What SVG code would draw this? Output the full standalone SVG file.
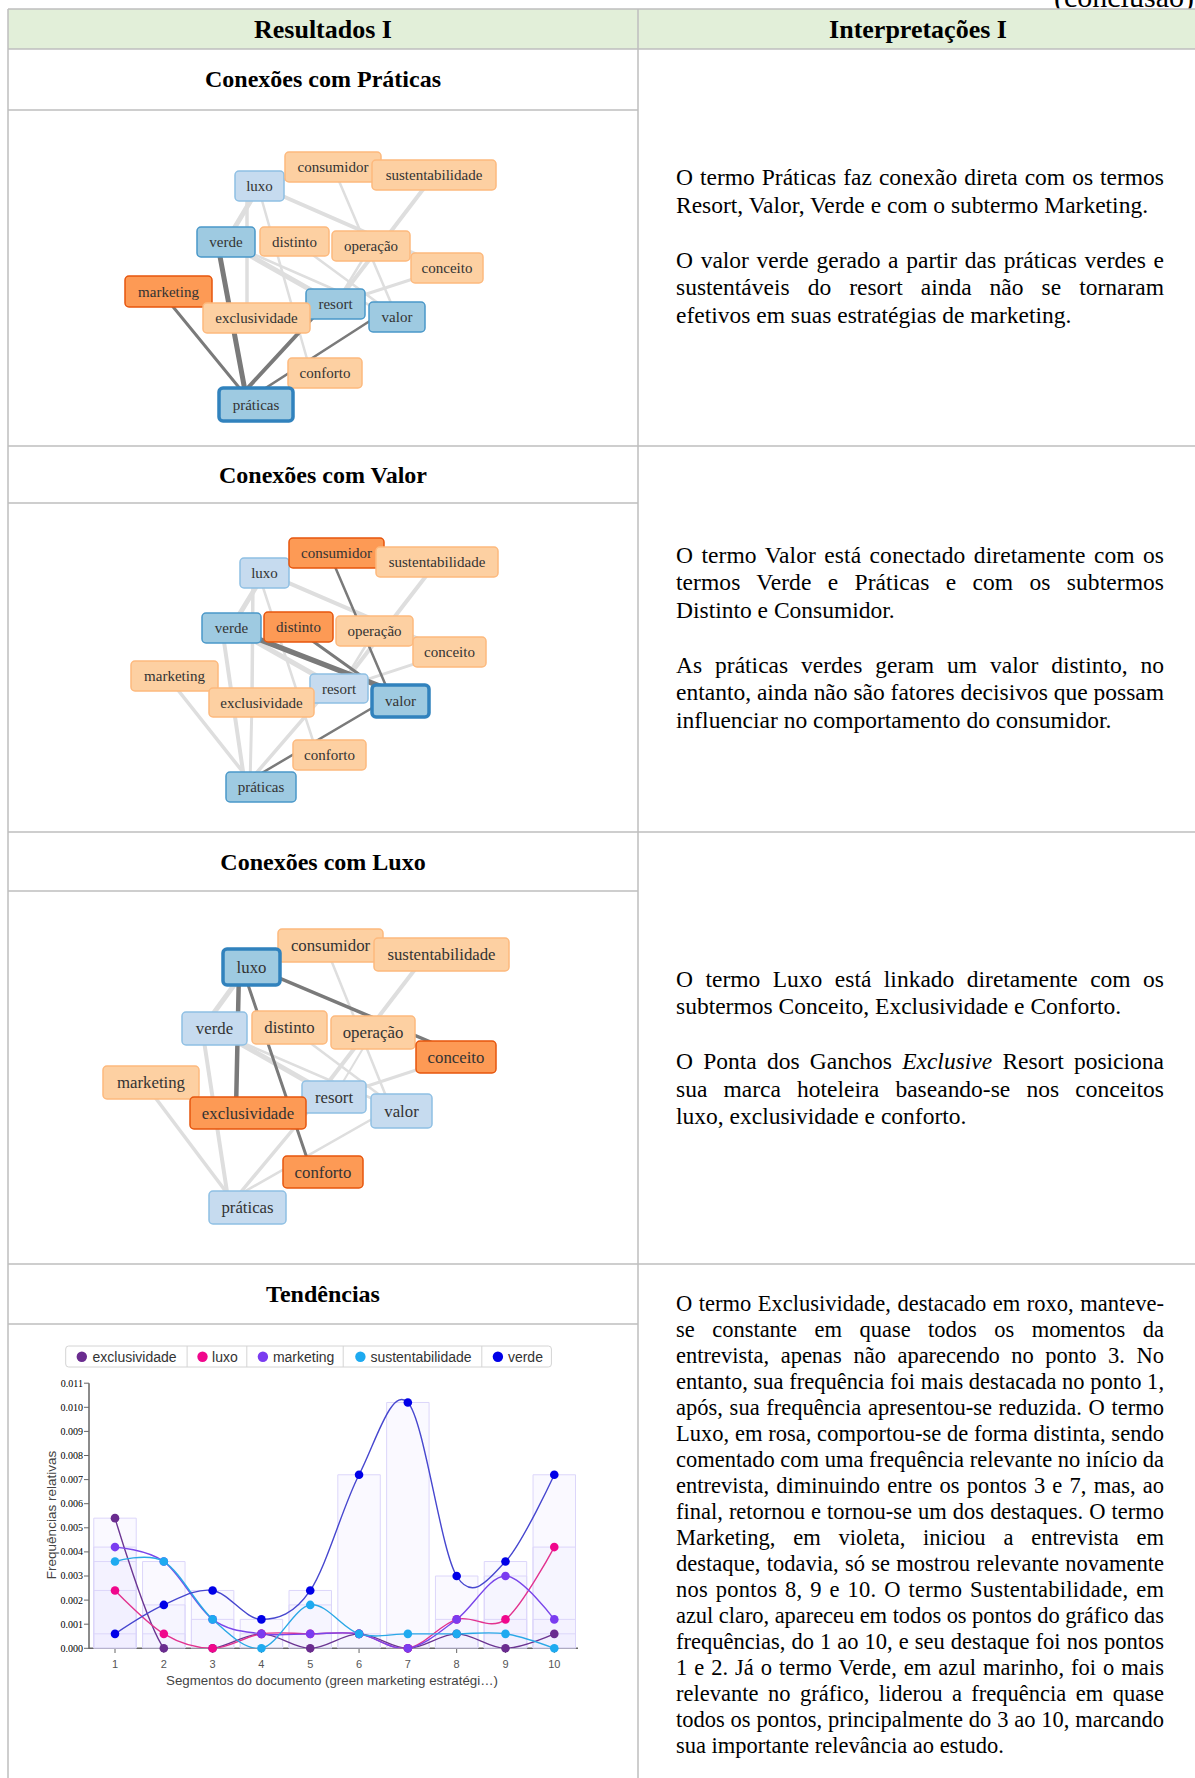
<svg xmlns="http://www.w3.org/2000/svg" width="1195" height="1778" viewBox="0 0 1195 1778">
<defs>
<style>
text{font-family:"Liberation Serif","Times New Roman",serif;fill:#000}
.hd{font-weight:bold;font-size:26px;text-anchor:middle}
.tt{font-weight:bold;font-size:24px;text-anchor:middle}
.p{font-size:23.5px}
.p4{font-size:22.5px}
.rule{stroke:#bfbfbf;stroke-width:1.5;fill:none}
.nl{font-size:15px;fill:#333;text-anchor:middle}
.nl3{font-size:16.8px;fill:#333;text-anchor:middle}
.lo{fill:#fdd0a2;stroke:#fdb97d;stroke-width:1.5}
.do{fill:#fd9a55;stroke:#e6550d;stroke-width:1.5}
.lb{fill:#c6dbef;stroke:#8fc0e4;stroke-width:1.5}
.mb{fill:#9ecae1;stroke:#4a98c9;stroke-width:1.5}
.sel{fill:#9ecae1;stroke:#3182bd;stroke-width:3.5}
.le{stroke:#dedede;fill:none;stroke-linecap:round}
.de{stroke:#7a7a7a;fill:none;stroke-linecap:round}
.ax{stroke:#666;stroke-width:1.5;fill:none}
.tk{font-family:"Liberation Sans",Arial,sans-serif;font-size:10px;fill:#555}
.tx{font-family:"Liberation Sans",Arial,sans-serif;font-size:11px;fill:#555;text-anchor:middle}
.at{font-family:"Liberation Sans",Arial,sans-serif;font-size:13.3px;fill:#444;text-anchor:middle}
.lg{font-family:"Liberation Sans",Arial,sans-serif;font-size:14px;fill:#333}
.bar{fill:#eeeaff;fill-opacity:0.3;stroke:#dcd6fa;stroke-width:1}
.ser{fill:none;stroke-width:1.4}
</style>
<clipPath id="plot"><rect x="89" y="1370" width="492" height="278.3"/></clipPath>
</defs>

<rect width="1195" height="1778" fill="#fff"/>

<!-- page header fragment -->
<text x="1054" y="6.5" style="font-size:30px">(conclusão)</text>

<!-- table frame -->
<g id="table">
  <rect x="8" y="9" width="1187" height="40" fill="#e2efd9"/>
  <path class="rule" d="M8,9H1195M8,49H1195M8,110H638M8,446H1195M8,503H638M8,832H1195M8,891H638M8,1264H1195M8,1324H638M8,9V1778M638,9V1778"/>
  <text class="hd" x="323" y="38">Resultados I</text>
  <text class="hd" x="918" y="38">Interpretações I</text>
  <text class="tt" x="323" y="87">Conexões com Práticas</text>
  <text class="tt" x="323" y="483">Conexões com Valor</text>
  <text class="tt" x="323" y="870">Conexões com Luxo</text>
  <text class="tt" x="323" y="1302">Tendências</text>
</g>

<!-- ===== graph 1: práticas ===== -->
<g id="links-praticas">
  <line class="le" stroke-width="3" x1="259.5" y1="186" x2="333" y2="167"/>
  <line class="le" stroke-width="5" x1="259.5" y1="186" x2="226" y2="242"/>
  <line class="le" stroke-width="3.5" x1="247" y1="190" x2="247" y2="315"/>
  <line class="le" stroke-width="4" x1="259.5" y1="186" x2="447" y2="268"/>
  <line class="le" stroke-width="2.5" x1="259" y1="190" x2="311" y2="373"/>
  <line class="le" stroke-width="4" x1="434" y1="175" x2="335.5" y2="304"/>
  <line class="le" stroke-width="5" x1="226" y1="242" x2="335.5" y2="304"/>
  <line class="le" stroke-width="2.5" x1="226" y1="242" x2="397" y2="317"/>
  <line class="le" stroke-width="2.5" x1="294.5" y1="241.5" x2="397" y2="317"/>
  <line class="le" stroke-width="2.5" x1="333" y1="167" x2="397" y2="317"/>
  <line class="le" stroke-width="2.5" x1="371" y1="246" x2="335.5" y2="304"/>
  <line class="le" stroke-width="3" x1="447" y1="268" x2="335.5" y2="304"/>
  <line class="de" stroke-width="5" x1="246" y1="396" x2="216" y2="235"/>
  <line class="de" stroke-width="3" x1="246" y1="396" x2="165" y2="297"/>
  <line class="de" stroke-width="4" x1="244" y1="392" x2="329" y2="300"/>
  <line class="de" stroke-width="2.5" x1="250" y1="398" x2="390" y2="308"/>
</g>
<g id="nodes-praticas">
  <g id="p-luxo"><rect class="lb" x="235" y="171" width="49" height="30" rx="4"/><text class="nl" x="259.5" y="191">luxo</text></g>
  <g id="p-consumidor"><rect class="lo" x="285" y="152" width="96" height="30" rx="4"/><text class="nl" x="333" y="172">consumidor</text></g>
  <g id="p-sustentabilidade"><rect class="lo" x="372" y="160" width="124" height="30" rx="4"/><text class="nl" x="434" y="180">sustentabilidade</text></g>
  <g id="p-verde"><rect class="mb" x="197" y="227" width="58" height="30" rx="4"/><text class="nl" x="226" y="247">verde</text></g>
  <g id="p-distinto"><rect class="lo" x="260" y="227" width="69" height="29" rx="4"/><text class="nl" x="294.5" y="246.5">distinto</text></g>
  <g id="p-operacao"><rect class="lo" x="332" y="231" width="78" height="30" rx="4"/><text class="nl" x="371" y="251">operação</text></g>
  <g id="p-conceito"><rect class="lo" x="411" y="253" width="72" height="30" rx="4"/><text class="nl" x="447" y="273">conceito</text></g>
  <g id="p-marketing"><rect class="do" x="125" y="276" width="87" height="31" rx="4"/><text class="nl" x="168.5" y="296.5">marketing</text></g>
  <g id="p-resort"><rect class="mb" x="306" y="289" width="59" height="30" rx="4"/><text class="nl" x="335.5" y="309">resort</text></g>
  <g id="p-exclusividade"><rect class="lo" x="203" y="303" width="107" height="30" rx="4"/><text class="nl" x="256.5" y="323">exclusividade</text></g>
  <g id="p-valor"><rect class="mb" x="369" y="302" width="56" height="30" rx="4"/><text class="nl" x="397" y="322">valor</text></g>
  <g id="p-conforto"><rect class="lo" x="288" y="358" width="74" height="30" rx="4"/><text class="nl" x="325" y="378">conforto</text></g>
  <g id="p-praticas"><rect class="sel" x="219" y="388" width="74" height="33" rx="4"/><text class="nl" x="256" y="409.5">práticas</text></g>
</g>

<!-- ===== graph 2: valor ===== -->
<g id="links-valor">
  <line class="le" stroke-width="3" x1="264.7" y1="572.7" x2="336.7" y2="553.3"/>
  <line class="le" stroke-width="5" x1="264.7" y1="572.7" x2="231.2" y2="627.7"/>
  <line class="le" stroke-width="3.5" x1="253" y1="575" x2="252" y2="700"/>
  <line class="le" stroke-width="4" x1="264.7" y1="572.7" x2="449.5" y2="652.3"/>
  <line class="le" stroke-width="2.5" x1="258" y1="572" x2="318" y2="756"/>
  <line class="le" stroke-width="4" x1="437" y1="561.7" x2="339.2" y2="688.7"/>
  <line class="le" stroke-width="5" x1="231.2" y1="627.7" x2="339.2" y2="688.7"/>
  <line class="le" stroke-width="2.5" x1="374.7" y1="631" x2="339.2" y2="688.7"/>
  <line class="le" stroke-width="3" x1="449.5" y1="652.3" x2="339.2" y2="688.7"/>
  <line class="le" stroke-width="3.5" x1="170" y1="680" x2="250" y2="781"/>
  <line class="le" stroke-width="4" x1="222" y1="628" x2="245" y2="785"/>
  <line class="le" stroke-width="3.5" x1="328" y1="690" x2="246" y2="785"/>
  <line class="le" stroke-width="3" x1="252" y1="702" x2="250" y2="785"/>
  <line class="de" stroke-width="5.5" x1="235" y1="630" x2="395" y2="692"/>
  <line class="de" stroke-width="3" x1="300" y1="632" x2="395" y2="700"/>
  <line class="de" stroke-width="2.5" x1="330" y1="555" x2="392" y2="700"/>
  <line class="de" stroke-width="2.5" x1="395" y1="694.5" x2="250" y2="780"/>
</g>
<g id="nodes-valor">
  <g id="v-luxo"><rect class="lb" x="240" y="558" width="49" height="30" rx="4"/><text class="nl" x="264.5" y="578">luxo</text></g>
  <g id="v-consumidor"><rect class="do" x="289" y="538" width="95" height="30" rx="4"/><text class="nl" x="336.5" y="558">consumidor</text></g>
  <g id="v-sustentabilidade"><rect class="lo" x="376" y="547" width="122" height="30" rx="4"/><text class="nl" x="437" y="567">sustentabilidade</text></g>
  <g id="v-verde"><rect class="mb" x="202" y="613" width="59" height="30" rx="4"/><text class="nl" x="231.5" y="633">verde</text></g>
  <g id="v-distinto"><rect class="do" x="264" y="612" width="69" height="30" rx="4"/><text class="nl" x="298.5" y="632">distinto</text></g>
  <g id="v-operacao"><rect class="lo" x="336" y="616" width="77" height="30" rx="4"/><text class="nl" x="374.5" y="636">operação</text></g>
  <g id="v-conceito"><rect class="lo" x="413" y="637" width="73" height="30" rx="4"/><text class="nl" x="449.5" y="657">conceito</text></g>
  <g id="v-marketing"><rect class="lo" x="131" y="661" width="87" height="30" rx="4"/><text class="nl" x="174.5" y="681">marketing</text></g>
  <g id="v-resort"><rect class="lb" x="310" y="674" width="58" height="29" rx="4"/><text class="nl" x="339" y="693.5">resort</text></g>
  <g id="v-exclusividade"><rect class="lo" x="209" y="688" width="105" height="29" rx="4"/><text class="nl" x="261.5" y="707.5">exclusividade</text></g>
  <g id="v-valor"><rect class="sel" x="372" y="685" width="57" height="32" rx="4"/><text class="nl" x="400.5" y="706">valor</text></g>
  <g id="v-conforto"><rect class="lo" x="293" y="740" width="73" height="30" rx="4"/><text class="nl" x="329.5" y="760">conforto</text></g>
  <g id="v-praticas"><rect class="mb" x="226" y="772" width="70" height="30" rx="4"/><text class="nl" x="261" y="792">práticas</text></g>
</g>

<!-- ===== graph 3: luxo ===== -->
<g id="links-luxo">
  <line class="le" stroke-width="3.5" x1="251.7" y1="967" x2="330.8" y2="945.3"/>
  <line class="le" stroke-width="5" x1="245" y1="970" x2="205" y2="1025"/>
  <line class="le" stroke-width="4" x1="426" y1="955" x2="317" y2="1097"/>
  <line class="le" stroke-width="2.5" x1="325" y1="945" x2="392" y2="1111"/>
  <line class="le" stroke-width="5" x1="225" y1="1035" x2="334" y2="1097"/>
  <line class="le" stroke-width="2.5" x1="225" y1="1035" x2="401" y2="1111"/>
  <line class="le" stroke-width="2.5" x1="289" y1="1027" x2="401" y2="1111"/>
  <line class="le" stroke-width="3" x1="455.8" y1="1057" x2="334" y2="1097"/>
  <line class="le" stroke-width="2" x1="372.8" y1="1032" x2="334" y2="1097"/>
  <line class="le" stroke-width="3.5" x1="145" y1="1084" x2="236" y2="1205"/>
  <line class="le" stroke-width="4" x1="202" y1="1028" x2="229" y2="1205"/>
  <line class="le" stroke-width="3.5" x1="320" y1="1097" x2="230" y2="1205"/>
  <line class="le" stroke-width="2.5" x1="395" y1="1106" x2="235" y2="1197"/>
  <line class="de" stroke-width="4.5" x1="239" y1="970" x2="236" y2="1110"/>
  <line class="de" stroke-width="3.5" x1="245" y1="963.5" x2="440" y2="1046"/>
  <line class="de" stroke-width="3" x1="243" y1="970" x2="311" y2="1170"/>
</g>
<g id="nodes-luxo">
  <g id="l-consumidor"><rect class="lo" x="278" y="929" width="105" height="33" rx="4"/><text class="nl3" x="330.5" y="951.2">consumidor</text></g>
  <g id="l-sustentabilidade"><rect class="lo" x="374" y="938" width="135" height="33" rx="4"/><text class="nl3" x="441.5" y="960.2">sustentabilidade</text></g>
  <g id="l-luxo"><rect class="sel" x="223" y="949" width="57" height="36" rx="4"/><text class="nl3" x="251.5" y="972.7">luxo</text></g>
  <g id="l-verde"><rect class="lb" x="182" y="1012" width="65" height="33" rx="4"/><text class="nl3" x="214.5" y="1034.2">verde</text></g>
  <g id="l-distinto"><rect class="lo" x="252" y="1011" width="75" height="33" rx="4"/><text class="nl3" x="289.5" y="1033.2">distinto</text></g>
  <g id="l-operacao"><rect class="lo" x="331" y="1016" width="84" height="33" rx="4"/><text class="nl3" x="373" y="1038.2">operação</text></g>
  <g id="l-conceito"><rect class="do" x="416" y="1041" width="80" height="32" rx="4"/><text class="nl3" x="456" y="1062.7">conceito</text></g>
  <g id="l-marketing"><rect class="lo" x="103" y="1066" width="96" height="33" rx="4"/><text class="nl3" x="151" y="1088.2">marketing</text></g>
  <g id="l-resort"><rect class="lb" x="302" y="1081" width="64" height="32" rx="4"/><text class="nl3" x="334" y="1102.7">resort</text></g>
  <g id="l-exclusividade"><rect class="do" x="190" y="1097" width="116" height="32" rx="4"/><text class="nl3" x="248" y="1118.7">exclusividade</text></g>
  <g id="l-valor"><rect class="lb" x="371" y="1094" width="61" height="34" rx="4"/><text class="nl3" x="401.5" y="1116.7">valor</text></g>
  <g id="l-conforto"><rect class="do" x="283" y="1156" width="80" height="32" rx="4"/><text class="nl3" x="323" y="1177.7">conforto</text></g>
  <g id="l-praticas"><rect class="lb" x="209" y="1191" width="77" height="33" rx="4"/><text class="nl3" x="247.5" y="1213.2">práticas</text></g>
</g>

<!-- ===== trends chart ===== -->
<g id="trends-legend">
  <rect x="65.7" y="1346" width="485.7" height="21" rx="3" fill="#fff" stroke="#d4d4d4"/>
  <path d="M187.1,1346V1367M246.8,1346V1367M343.2,1346V1367M481.8,1346V1367" stroke="#d4d4d4"/>
  <circle cx="81.8" cy="1356.7" r="5.2" fill="#6a2c8f"/><text class="lg" x="92.5" y="1361.6">exclusividade</text>
  <circle cx="202.5" cy="1356.7" r="5.2" fill="#f0078c"/><text class="lg" x="212.1" y="1361.6">luxo</text>
  <circle cx="262.9" cy="1356.7" r="5.2" fill="#7a3cf0"/><text class="lg" x="272.9" y="1361.6">marketing</text>
  <circle cx="360.4" cy="1356.7" r="5.2" fill="#1eaaf0"/><text class="lg" x="370.4" y="1361.6">sustentabilidade</text>
  <circle cx="497.9" cy="1356.7" r="5.2" fill="#0000e8"/><text class="lg" x="507.9" y="1361.6">verde</text>
</g>

<g id="trends-axes">
  <path class="ax" d="M89,1383.2V1648.3H578"/>
  <path stroke="#666" stroke-width="1" d="M84,1648.3H89M84,1624.2H89M84,1600.1H89M84,1576H89M84,1551.9H89M84,1527.8H89M84,1503.7H89M84,1479.6H89M84,1455.5H89M84,1431.4H89M84,1407.3H89M84,1383.2H89M115,1648.3V1653M163.81,1648.3V1653M212.62,1648.3V1653M261.43,1648.3V1653M310.24,1648.3V1653M359.05,1648.3V1653M407.86,1648.3V1653M456.67,1648.3V1653M505.48,1648.3V1653M554.29,1648.3V1653"/>
  <g class="tk" text-anchor="end">
    <text x="83" y="1651.7">0.000</text><text x="83" y="1627.6">0.001</text><text x="83" y="1603.5">0.002</text><text x="83" y="1579.4">0.003</text>
    <text x="83" y="1555.3">0.004</text><text x="83" y="1531.2">0.005</text><text x="83" y="1507.1">0.006</text><text x="83" y="1483">0.007</text>
    <text x="83" y="1458.9">0.008</text><text x="83" y="1434.8">0.009</text><text x="83" y="1410.7">0.010</text><text x="83" y="1386.6">0.011</text>
  </g>
  <text class="tx" x="115" y="1667.5">1</text><text class="tx" x="163.81" y="1667.5">2</text><text class="tx" x="212.62" y="1667.5">3</text>
  <text class="tx" x="261.43" y="1667.5">4</text><text class="tx" x="310.24" y="1667.5">5</text><text class="tx" x="359.05" y="1667.5">6</text>
  <text class="tx" x="407.86" y="1667.5">7</text><text class="tx" x="456.67" y="1667.5">8</text><text class="tx" x="505.48" y="1667.5">9</text>
  <text class="tx" x="554.29" y="1667.5">10</text>
  <text class="at" x="332" y="1685">Segmentos do documento (green marketing estratégi…)</text>
  <text class="at" transform="translate(56 1515) rotate(-90)" style="font-size:13.5px">Frequências relativas</text>
</g>

<g id="trends-plot" clip-path="url(#plot)">
  <!-- one unit on x = one document segment, one unit on y = 0.0006 -->
  <g transform="translate(115 1648.3) scale(48.81 -14.46)">
    <g class="bar">
      <rect x="-0.435" y="0" width="0.87" height="9" vector-effect="non-scaling-stroke"/>
      <rect x="-0.435" y="0" width="0.87" height="7" vector-effect="non-scaling-stroke"/>
      <rect x="-0.435" y="0" width="0.87" height="6" vector-effect="non-scaling-stroke"/>
      <rect x="-0.435" y="0" width="0.87" height="4" vector-effect="non-scaling-stroke"/>
      <rect x="-0.435" y="0" width="0.87" height="1" vector-effect="non-scaling-stroke"/>
      <rect x="0.565" y="0" width="0.87" height="6" vector-effect="non-scaling-stroke"/>
      <rect x="0.565" y="0" width="0.87" height="3" vector-effect="non-scaling-stroke"/>
      <rect x="0.565" y="0" width="0.87" height="1" vector-effect="non-scaling-stroke"/>
      <rect x="1.565" y="0" width="0.87" height="4" vector-effect="non-scaling-stroke"/>
      <rect x="1.565" y="0" width="0.87" height="2" vector-effect="non-scaling-stroke"/>
      <rect x="2.565" y="0" width="0.87" height="2" vector-effect="non-scaling-stroke"/>
      <rect x="2.565" y="0" width="0.87" height="1" vector-effect="non-scaling-stroke"/>
      <rect x="3.565" y="0" width="0.87" height="4" vector-effect="non-scaling-stroke"/>
      <rect x="3.565" y="0" width="0.87" height="3" vector-effect="non-scaling-stroke"/>
      <rect x="3.565" y="0" width="0.87" height="1" vector-effect="non-scaling-stroke"/>
      <rect x="4.565" y="0" width="0.87" height="12" vector-effect="non-scaling-stroke"/>
      <rect x="4.565" y="0" width="0.87" height="1" vector-effect="non-scaling-stroke"/>
      <rect x="5.565" y="0" width="0.87" height="17" vector-effect="non-scaling-stroke"/>
      <rect x="5.565" y="0" width="0.87" height="1" vector-effect="non-scaling-stroke"/>
      <rect x="6.565" y="0" width="0.87" height="5" vector-effect="non-scaling-stroke"/>
      <rect x="6.565" y="0" width="0.87" height="2" vector-effect="non-scaling-stroke"/>
      <rect x="6.565" y="0" width="0.87" height="1" vector-effect="non-scaling-stroke"/>
      <rect x="7.565" y="0" width="0.87" height="6" vector-effect="non-scaling-stroke"/>
      <rect x="7.565" y="0" width="0.87" height="5" vector-effect="non-scaling-stroke"/>
      <rect x="7.565" y="0" width="0.87" height="2" vector-effect="non-scaling-stroke"/>
      <rect x="7.565" y="0" width="0.87" height="1" vector-effect="non-scaling-stroke"/>
      <rect x="8.565" y="0" width="0.87" height="12" vector-effect="non-scaling-stroke"/>
      <rect x="8.565" y="0" width="0.87" height="7" vector-effect="non-scaling-stroke"/>
      <rect x="8.565" y="0" width="0.87" height="2" vector-effect="non-scaling-stroke"/>
      <rect x="8.565" y="0" width="0.87" height="1" vector-effect="non-scaling-stroke"/>
    </g>
    <path class="ser" stroke="#6b3592" vector-effect="non-scaling-stroke" d="M0,9C0,9 0.6667,1.5 1,0C1.3333,-1.5 1.6667,-0.1667 2,0C2.3333,0.1667 2.6667,1 3,1C3.3333,1 3.6667,0 4,0C4.3333,0 4.6667,1 5,1C5.3333,1 5.6667,0 6,0C6.3333,0 6.6667,1 7,1C7.3333,1 7.6667,0 8,0C8.3333,0 9,1 9,1"/>
    <path class="ser" stroke="#e2338f" vector-effect="non-scaling-stroke" d="M0,4C0,4 0.6667,1.6667 1,1C1.3333,0.3333 1.6667,0 2,0C2.3333,0 2.6667,0.8333 3,1C3.3333,1.1667 3.6667,1 4,1C4.3333,1 4.6667,1.1667 5,1C5.3333,0.8333 5.6667,-0.1667 6,0C6.3333,0.1667 6.6667,1.6667 7,2C7.3333,2.3333 7.6667,1.1667 8,2C8.3333,2.8333 9,7 9,7"/>
    <path class="ser" stroke="#7a46ea" vector-effect="non-scaling-stroke" d="M0,7C0,7 0.6667,6.8333 1,6C1.3333,5.1667 1.6667,2.8333 2,2C2.3333,1.1667 2.6667,1.1667 3,1C3.3333,0.8333 3.6667,1 4,1C4.3333,1 4.6667,1.1667 5,1C5.3333,0.8333 5.6667,-0.1667 6,0C6.3333,0.1667 6.6667,1.1667 7,2C7.3333,2.8333 7.6667,5 8,5C8.3333,5 9,2 9,2"/>
    <path class="ser" stroke="#2aa8e6" vector-effect="non-scaling-stroke" d="M0,6C0,6 0.6667,6.6667 1,6C1.3333,5.3333 1.6667,3 2,2C2.3333,1 2.6667,-0.1667 3,0C3.3333,0.1667 3.6667,2.8333 4,3C4.3333,3.1667 4.6667,1.3333 5,1C5.3333,0.6667 5.6667,1 6,1C6.3333,1 6.6667,1 7,1C7.3333,1 7.6667,1.1667 8,1C8.3333,0.8333 9,0 9,0"/>
    <path class="ser" stroke="#4747cf" vector-effect="non-scaling-stroke" d="M0,1C0,1 0.6667,2.5 1,3C1.3333,3.5 1.6667,4.1667 2,4C2.3333,3.8333 2.6667,2 3,2C3.3333,2 3.6667,2.3333 4,4C4.3333,5.6667 4.6667,9.8333 5,12C5.3333,14.1667 5.6667,18.1667 6,17C6.3333,15.8333 6.6667,6.8333 7,5C7.3333,3.1667 7.6667,4.8333 8,6C8.3333,7.1667 9,12 9,12"/>
  </g>
</g>

<g id="trends-points">
  <g fill="#6a2c8f">
    <circle cx="115" cy="1518.16" r="4.3"/><circle cx="163.81" cy="1648.3" r="4.3"/><circle cx="212.62" cy="1648.3" r="4.3"/><circle cx="261.43" cy="1633.84" r="4.3"/><circle cx="310.24" cy="1648.3" r="4.3"/>
    <circle cx="359.05" cy="1633.84" r="4.3"/><circle cx="407.86" cy="1648.3" r="4.3"/><circle cx="456.67" cy="1633.84" r="4.3"/><circle cx="505.48" cy="1648.3" r="4.3"/><circle cx="554.29" cy="1633.84" r="4.3"/>
  </g>
  <g fill="#f0078c">
    <circle cx="115" cy="1590.46" r="4.3"/><circle cx="163.81" cy="1633.84" r="4.3"/><circle cx="212.62" cy="1648.3" r="4.3"/><circle cx="261.43" cy="1633.84" r="4.3"/><circle cx="310.24" cy="1633.84" r="4.3"/>
    <circle cx="359.05" cy="1633.84" r="4.3"/><circle cx="407.86" cy="1648.3" r="4.3"/><circle cx="456.67" cy="1619.38" r="4.3"/><circle cx="505.48" cy="1619.38" r="4.3"/><circle cx="554.29" cy="1547.08" r="4.3"/>
  </g>
  <g fill="#7a3cf0">
    <circle cx="115" cy="1547.08" r="4.3"/><circle cx="163.81" cy="1561.54" r="4.3"/><circle cx="212.62" cy="1619.38" r="4.3"/><circle cx="261.43" cy="1633.84" r="4.3"/><circle cx="310.24" cy="1633.84" r="4.3"/>
    <circle cx="359.05" cy="1633.84" r="4.3"/><circle cx="407.86" cy="1648.3" r="4.3"/><circle cx="456.67" cy="1619.38" r="4.3"/><circle cx="505.48" cy="1576" r="4.3"/><circle cx="554.29" cy="1619.38" r="4.3"/>
  </g>
  <g fill="#1eaaf0">
    <circle cx="115" cy="1561.54" r="4.3"/><circle cx="163.81" cy="1561.54" r="4.3"/><circle cx="212.62" cy="1619.38" r="4.3"/><circle cx="261.43" cy="1648.3" r="4.3"/><circle cx="310.24" cy="1604.92" r="4.3"/>
    <circle cx="359.05" cy="1633.84" r="4.3"/><circle cx="407.86" cy="1633.84" r="4.3"/><circle cx="456.67" cy="1633.84" r="4.3"/><circle cx="505.48" cy="1633.84" r="4.3"/><circle cx="554.29" cy="1648.3" r="4.3"/>
  </g>
  <g fill="#0000e8">
    <circle cx="115" cy="1633.84" r="4.3"/><circle cx="163.81" cy="1604.92" r="4.3"/><circle cx="212.62" cy="1590.46" r="4.3"/><circle cx="261.43" cy="1619.38" r="4.3"/><circle cx="310.24" cy="1590.46" r="4.3"/>
    <circle cx="359.05" cy="1474.78" r="4.3"/><circle cx="407.86" cy="1402.48" r="4.3"/><circle cx="456.67" cy="1576" r="4.3"/><circle cx="505.48" cy="1561.54" r="4.3"/><circle cx="554.29" cy="1474.78" r="4.3"/>
  </g>
</g>

<!-- ===== interpretation column ===== -->
<g id="text-praticas" class="p">
  <text x="676" y="185" word-spacing="1.1" textLength="488" lengthAdjust="spacing">O termo Práticas faz conexão direta com os termos</text>
  <text x="676" y="212.5">Resort, Valor, Verde e com o subtermo Marketing.</text>
  <text x="676" y="267.5" word-spacing="1.8" textLength="488" lengthAdjust="spacing">O valor verde gerado a partir das práticas verdes e</text>
  <text x="676" y="295" word-spacing="12.1" textLength="488" lengthAdjust="spacing">sustentáveis do resort ainda não se tornaram</text>
  <text x="676" y="322.5">efetivos em suas estratégias de marketing.</text>
</g>
<g id="text-valor" class="p">
  <text x="676" y="562.5" word-spacing="2.5" textLength="488" lengthAdjust="spacing">O termo Valor está conectado diretamente com os</text>
  <text x="676" y="590" word-spacing="10.3" textLength="488" lengthAdjust="spacing">termos Verde e Práticas e com os subtermos</text>
  <text x="676" y="617.5">Distinto e Consumidor.</text>
  <text x="676" y="672.5" word-spacing="7" textLength="488" lengthAdjust="spacing">As práticas verdes geram um valor distinto, no</text>
  <text x="676" y="700" textLength="488" lengthAdjust="spacing">entanto, ainda não são fatores decisivos que possam</text>
  <text x="676" y="727.5">influenciar no comportamento do consumidor.</text>
</g>
<g id="text-luxo" class="p">
  <text x="676" y="986.5" word-spacing="6.6" textLength="488" lengthAdjust="spacing">O termo Luxo está linkado diretamente com os</text>
  <text x="676" y="1014">subtermos Conceito, Exclusividade e Conforto.</text>
  <text x="676" y="1069" word-spacing="4.3" textLength="488" lengthAdjust="spacing">O Ponta dos Ganchos <tspan font-style="italic">Exclusive</tspan> Resort posiciona</text>
  <text x="676" y="1096.5" word-spacing="10.3" textLength="488" lengthAdjust="spacing">sua marca hoteleira baseando-se nos conceitos</text>
  <text x="676" y="1124">luxo, exclusividade e conforto.</text>
</g>
<g id="text-tendencias" class="p4">
  <text x="676" y="1311" word-spacing="0.9" textLength="488" lengthAdjust="spacing">O termo Exclusividade, destacado em roxo, manteve-</text>
  <text x="676" y="1337" word-spacing="11.8" textLength="488" lengthAdjust="spacing">se constante em quase todos os momentos da</text>
  <text x="676" y="1363" word-spacing="5.9" textLength="488" lengthAdjust="spacing">entrevista, apenas não aparecendo no ponto 3. No</text>
  <text x="676" y="1389" textLength="488" lengthAdjust="spacing">entanto, sua frequência foi mais destacada no ponto 1,</text>
  <text x="676" y="1415" word-spacing="1.1" textLength="488" lengthAdjust="spacing">após, sua frequência apresentou-se reduzida. O termo</text>
  <text x="676" y="1441" textLength="488" lengthAdjust="spacing">Luxo, em rosa, comportou-se de forma distinta, sendo</text>
  <text x="676" y="1467" textLength="488" lengthAdjust="spacing">comentado com uma frequência relevante no início da</text>
  <text x="676" y="1493" word-spacing="1.6" textLength="488" lengthAdjust="spacing">entrevista, diminuindo entre os pontos 3 e 7, mas, ao</text>
  <text x="676" y="1519" word-spacing="0.4" textLength="488" lengthAdjust="spacing">final, retornou e tornou-se um dos destaques. O termo</text>
  <text x="676" y="1545" word-spacing="12.2" textLength="488" lengthAdjust="spacing">Marketing, em violeta, iniciou a entrevista em</text>
  <text x="676" y="1571" word-spacing="0.7" textLength="488" lengthAdjust="spacing">destaque, todavia, só se mostrou relevante novamente</text>
  <text x="676" y="1597" word-spacing="2" textLength="488" lengthAdjust="spacing">nos pontos 8, 9 e 10. O termo Sustentabilidade, em</text>
  <text x="676" y="1623" textLength="488" lengthAdjust="spacing">azul claro, apareceu em todos os pontos do gráfico das</text>
  <text x="676" y="1649" word-spacing="0.4" textLength="488" lengthAdjust="spacing">frequências, do 1 ao 10, e seu destaque foi nos pontos</text>
  <text x="676" y="1675" word-spacing="1.2" textLength="488" lengthAdjust="spacing">1 e 2. Já o termo Verde, em azul marinho, foi o mais</text>
  <text x="676" y="1701" word-spacing="3.8" textLength="488" lengthAdjust="spacing">relevante no gráfico, liderou a frequência em quase</text>
  <text x="676" y="1727" word-spacing="0.2" textLength="488" lengthAdjust="spacing">todos os pontos, principalmente do 3 ao 10, marcando</text>
  <text x="676" y="1753">sua importante relevância ao estudo.</text>
</g>
</svg>
